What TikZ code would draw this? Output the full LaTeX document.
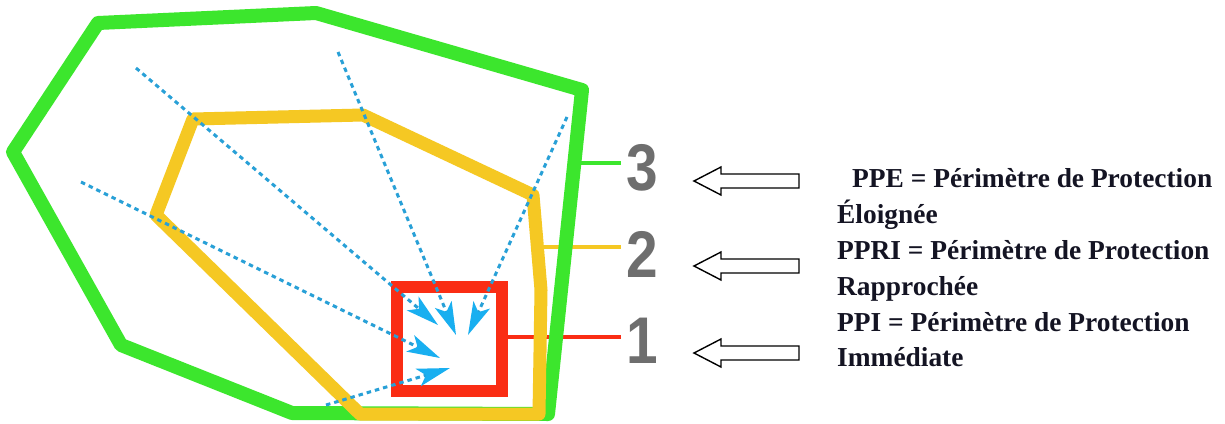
\documentclass[tikz,border=0pt]{standalone}
\usepackage{fontspec}
\setmainfont{Liberation Serif}
\setsansfont{Liberation Sans}
\usetikzlibrary{arrows.meta}
\definecolor{pgreen}{RGB}{60,230,45}
\definecolor{pyellow}{RGB}{245,200,35}
\definecolor{pred}{RGB}{250,45,20}
\definecolor{pblue}{RGB}{40,160,215}
\definecolor{ptip}{RGB}{25,175,240}
\definecolor{pgray}{RGB}{110,110,110}
\definecolor{ptext}{RGB}{20,20,35}
\tikzset{
  greenline/.style={draw=pgreen,line width=14pt,line join=round},
  yellowline/.style={draw=pyellow,line width=13pt,line join=round},
  link/.style={line width=3.5pt},
  redbox/.style={draw=pred,line width=12pt,minimum width=105pt,minimum height=104pt,inner sep=0pt},
  flow/.style={draw=pblue,line width=3pt,dash pattern=on 4.5pt off 4pt,
    -{Stealth[length=33pt,width=18pt,inset=8pt,color=ptip,fill=ptip]}},
  num/.style={font=\sffamily\bfseries\fontsize{66}{66}\selectfont,text=pgray,
    inner sep=0pt,anchor=base,xscale=0.86},
  hollowarrow/.style={draw=black,fill=white,line width=1.4pt,line join=miter},
  legend/.style={font=\bfseries\fontsize{27.4}{36}\selectfont,text=ptext,
    anchor=base west,inner sep=0pt}
}
\begin{document}
\begin{tikzpicture}[x=1pt,y=-1pt]
\useasboundingbox[fill=white] (0,0) rectangle (1225,423);
% numbers
\node[num] (n3) at (642,190) {3};
\node[num] (n2) at (642,277) {2};
\node[num] (n1) at (642,363) {1};
% attachment points on perimeters
\coordinate (g3) at (574,163);
\coordinate (y2) at (538,247);
% red box
\node[redbox] (box) at (449.5,339) {};
% connectors to numbers
\draw[link,pgreen] (g3) -- ([xshift=-5pt]n3.west |- g3);
\draw[link,pyellow] (y2) -- ([xshift=-5pt]n2.west |- y2);
\draw[link,pred] (box.east |- 0,337) -- ([xshift=-5pt]n1.west |- 0,337);
% perimeter 3 (green)
\draw[greenline] (98,23) -- (316,13) -- (582,90) -- (548,414) -- (292,413)
  -- (121,345) -- (13,152) -- cycle;
% perimeter 2 (yellow)
\draw[yellowline] (193,119) -- (363,115) -- (533,195) -- (541,290) -- (539,414)
  -- (360,414) -- (156,215) -- cycle;
% perimeter 1 (red box) on top
\node[redbox] (box2) at (449.5,339) {};
% flow lines
\coordinate (sA) at (338,52);  \coordinate (tA) at (456,335);
\coordinate (sB) at (567,117); \coordinate (tB) at (468,335);
\coordinate (sC) at (136,68);  \coordinate (tC) at (438,325);
\coordinate (sD) at (81,182);  \coordinate (tD) at (440,358);
\coordinate (sE) at (326,405); \coordinate (tE) at (450,368);
\draw[flow] (sA) -- (tA);
\draw[flow] (sB) -- (tB);
\draw[flow] (sC) -- (tC);
\draw[flow] (sD) -- (tD);
\draw[flow] (sE) -- (tE);
% hollow arrows
\foreach \yy in {181,266,353}{
  \draw[hollowarrow] (694,\yy) -- ++(27,-14) -- ++(0,7) -- ++(78,0) -- ++(0,14)
    -- ++(-78,0) -- ++(0,7) -- cycle;
}
% legend
\node[legend] (t1) at (837,187) {\hspace*{15pt}PPE = Périmètre de Protection};
\node[legend] (t2) at (837,223) {Éloignée};
\node[legend] (t3) at (837,259) {PPRI = Périmètre de Protection};
\node[legend] (t4) at (837,295) {Rapprochée};
\node[legend] (t5) at (837,331) {PPI = Périmètre de Protection};
\node[legend] (t6) at (837,366) {Immédiate};
\end{tikzpicture}
\end{document}
